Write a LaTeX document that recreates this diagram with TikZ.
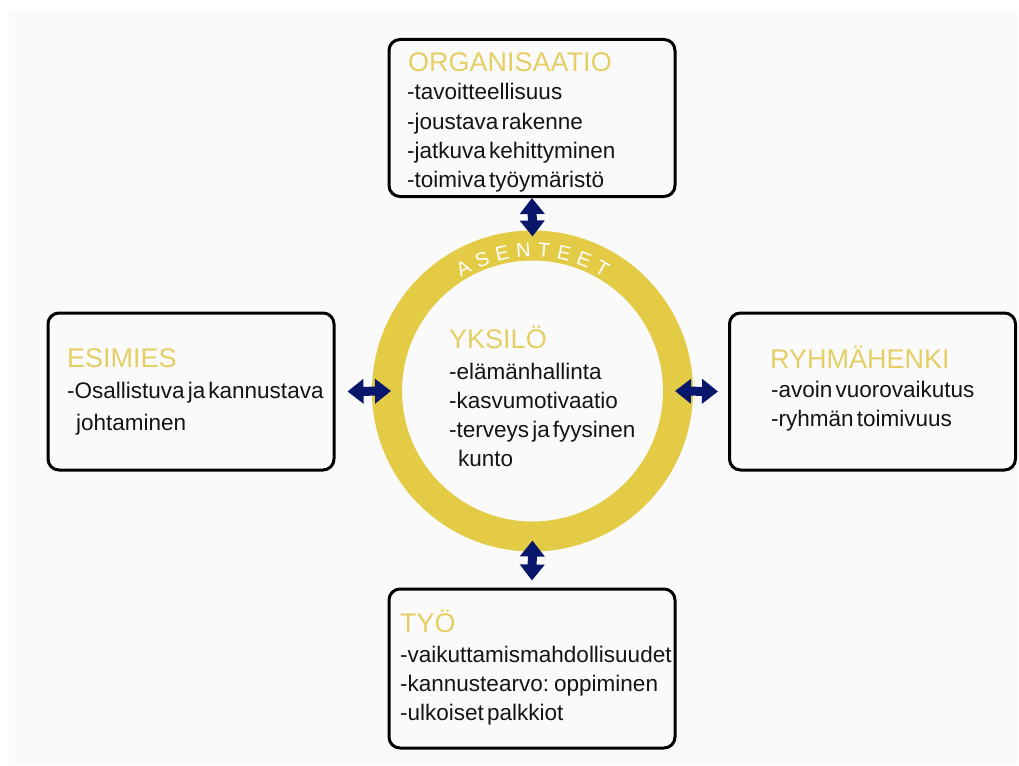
\documentclass[tikz,border=0pt]{standalone}
\usepackage{fontspec}
\setmainfont{Liberation Sans}[WordSpace=0.5]
\usetikzlibrary{arrows.meta,decorations.text}
\definecolor{ringy}{RGB}{227,203,70}
\definecolor{titley}{RGB}{229,207,100}
\definecolor{navy}{RGB}{8,22,108}
\definecolor{panel}{RGB}{250,250,250}
\definecolor{ink}{RGB}{20,20,20}
\begin{document}
\begin{tikzpicture}[x=1pt,y=-1pt,
  box/.style={draw=black, line width=3pt, rounded corners=11pt, fill=panel,
    minimum width=286pt, minimum height=157pt, inner sep=0pt},
  ttl/.style={anchor=base west, inner sep=0pt, text=titley, font=\fontsize{27}{27}\selectfont},
  item/.style={anchor=base west, inner sep=0pt, text=ink, font=\fontsize{22.5}{22.5}\selectfont},
  ringstyle/.style={circle, draw=ringy, line width=30pt, minimum size=291pt, inner sep=0pt},
  dblarrow/.style={draw=navy, line width=9pt,
    {Triangle[width=24pt,length=16pt]}-{Triangle[width=24pt,length=16pt]}}
]
\useasboundingbox (0,0) rectangle (1019,765);
\fill[white] (0,0) rectangle (1019,765);
\fill[panel] (9,11) rectangle (1017,765);

% ring
\node[ringstyle] (ring) at (532.5,391) {};
\path[decorate, decoration={text along path, text align=center,
  text={|\color{white}\fontsize{20}{20}\selectfont|A{\kern6.5pt}S{\kern6.5pt}E{\kern6.5pt}N{\kern6.5pt}T{\kern6.5pt}E{\kern6.5pt}E{\kern6.5pt}T}}]
  ({532.5+134*cos(125)},{391-134*sin(125)}) arc[start angle=-125, end angle=-55, radius=134];

% boxes
\node[box] (org) at (532,118) {};
\node[box] (esi) at (191,391.5) {};
\node[box] (ryh) at (872.5,391.5) {};
\node[box, minimum height=159pt] (tyo) at (532,668.5) {};

% ORGANISAATIO
\node[ttl] (orgT) at (408,72) {ORGANISAATIO};
\node[item] (org1) at (407,100) {-tavoitteellisuus};
\node[item] (org2) at (407,129) {-joustava rakenne};
\node[item] (org3) at (407,158) {-jatkuva kehittyminen};
\node[item] (org4) at (407,187) {-toimiva työymäristö};

% ESIMIES
\node[ttl] (esiT) at (67,367) {ESIMIES};
\node[item] (esi1) at (67,398) {-Osallistuva ja kannustava};
\node[item] (esi2) at (76,430) {johtaminen};

% RYHMÄHENKI
\node[ttl] (ryhT) at (770,368) {RYHMÄHENKI};
\node[item] (ryh1) at (771,397) {-avoin vuorovaikutus};
\node[item] (ryh2) at (771,426) {-ryhmän toimivuus};

% YKSILÖ
\node[ttl] (yksT) at (449,348) {YKSILÖ};
\node[item] (yks1) at (449,379) {-elämänhallinta};
\node[item] (yks2) at (449,408) {-kasvumotivaatio};
\node[item] (yks3) at (449,437) {-terveys ja fyysinen};
\node[item] (yks4) at (458,466) {kunto};

% TYÖ
\node[ttl] (tyoT) at (400,632) {TYÖ};
\node[item] (tyo1) at (400,662) {-vaikuttamismahdollisuudet};
\node[item] (tyo2) at (400,691) {-kannustearvo: oppiminen};
\node[item] (tyo3) at (400,720) {-ulkoiset palkkiot};

% arrows
\draw[dblarrow] (org.south) -- ([yshift=-6pt]ring.north);
\draw[dblarrow] ([yshift=11pt]ring.south) -- ([yshift=7pt]tyo.north);
\draw[dblarrow] ([xshift=12pt]esi.east) -- ([xshift=19pt]ring.west);
\draw[dblarrow] ([xshift=-18pt]ring.east) -- ([xshift=-10pt]ryh.west);
\end{tikzpicture}
\end{document}
